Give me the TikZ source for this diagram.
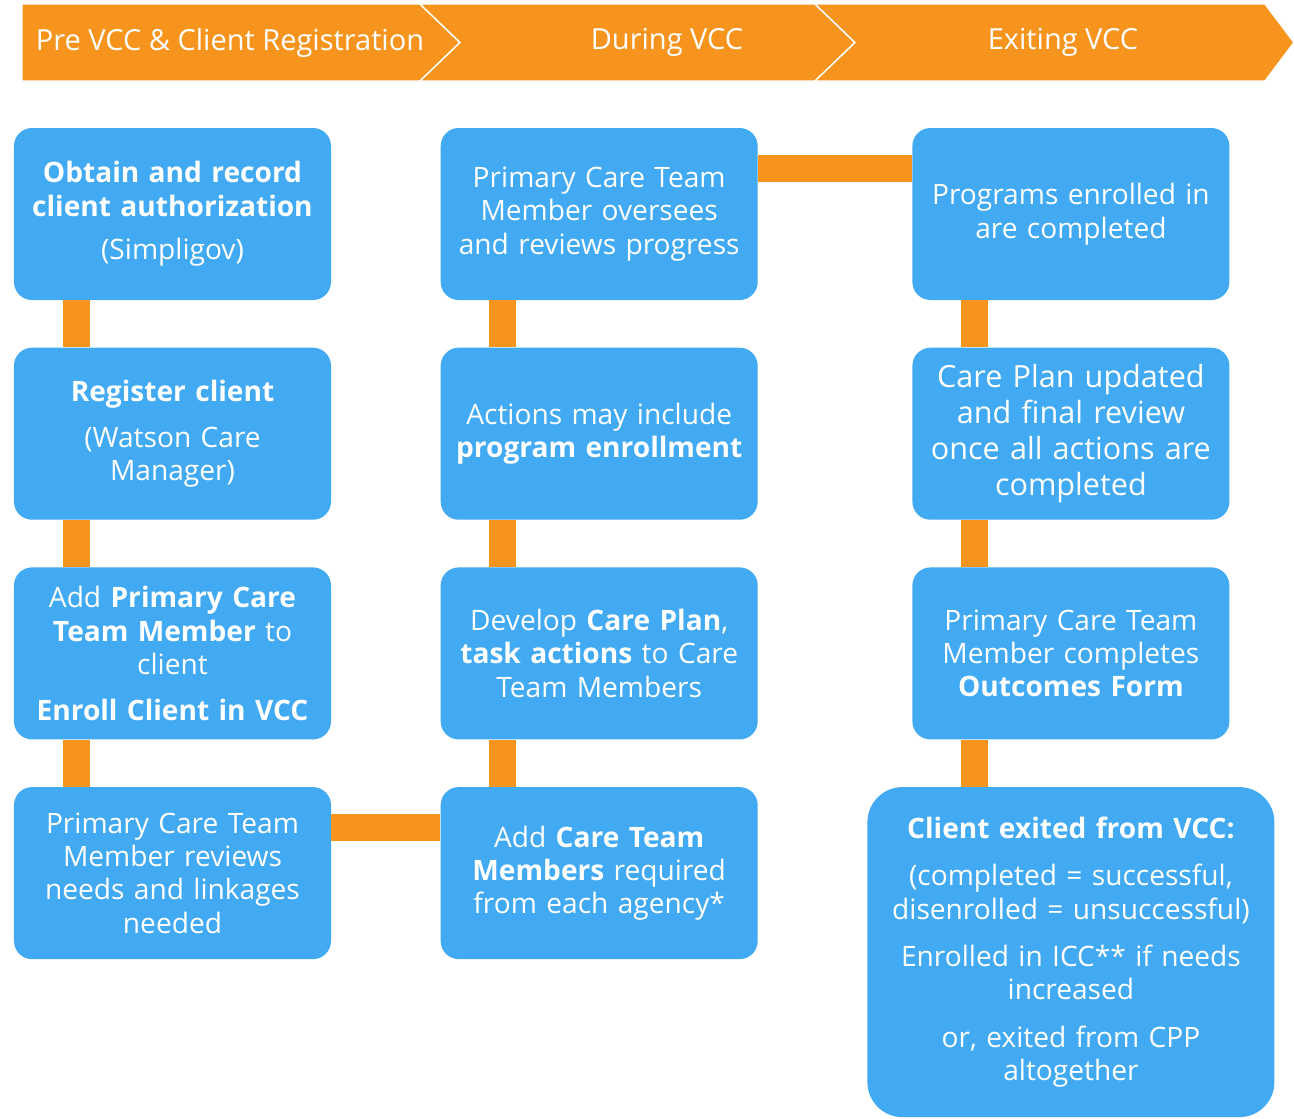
\documentclass[tikz,border=0pt]{standalone}
\usepackage{fontspec}
\setmainfont{Open Sans}
\usetikzlibrary{positioning}
\definecolor{vccblue}{RGB}{66,169,243}
\definecolor{vccorange}{RGB}{247,148,30}
\tikzset{
    box/.style={rectangle,rounded corners=0.36cm,fill=vccblue,text=white,minimum width=6.34cm,minimum height=3.44cm,text width=6.2cm,align=center,inner sep=0pt,font=\fontsize{16}{19}\selectfont},
    bigbox/.style={box,rounded corners=0.7cm,minimum width=8.14cm,minimum height=6.6cm,text width=7.9cm},
    link/.style={-,draw=vccorange,line width=0.54cm},
    phase/.style={fill=vccorange,draw=white,line width=0.8pt,line join=miter},
    phase label/.style={text=white,font=\fontsize{16.5}{20}\selectfont}
}

\begin{document}
\begin{tikzpicture}
    \useasboundingbox (0,0) rectangle (25.88,-22.36);

    % phase band
    \draw[phase] (0.44,-0.08) -- (8.4,-0.08) -- (9.2,-0.85) -- (8.4,-1.62) -- (0.44,-1.62) -- cycle;
    \draw[phase] (8.4,-0.08) -- (16.3,-0.08) -- (17.1,-0.85) -- (16.3,-1.62) -- (8.4,-1.62) -- (9.2,-0.85) -- cycle;
    \draw[phase] (16.3,-0.08) -- (25.3,-0.08) -- (25.88,-0.85) -- (25.3,-1.62) -- (16.3,-1.62) -- (17.1,-0.85) -- cycle;
    \node[phase label] (phase 1) at (4.6,-0.85)   {Pre VCC \& Client Registration};
    \node[phase label] (phase 2) at (13.34,-0.85) {During VCC};
    \node[phase label] (phase 3) at (21.26,-0.85) {Exiting VCC};

    % pre VCC column
    \node[box] (pre 1) at (3.45,-4.28) {\textbf{Obtain and record}\\\textbf{client authorization}\\[6pt](Simpligov)};
    \node[box,below=0.94cm of pre 1] (pre 2) {\textbf{Register client}\\[7pt](Watson Care\\Manager)};
    \node[box,below=0.94cm of pre 2] (pre 3) {Add \textbf{Primary Care}\\\textbf{Team Member} to\\client\\[7pt]\textbf{Enroll Client in VCC}};
    \node[box,below=0.94cm of pre 3] (pre 4) {Primary Care Team\\Member reviews\\needs and linkages\\needed};

    % during VCC column
    \node[box,right=2.18cm of pre 1] (during 1) {Primary Care Team\\Member oversees\\and reviews progress};
    \node[box,below=0.94cm of during 1] (during 2) {Actions may include\\\textbf{program enrollment}};
    \node[box,below=0.94cm of during 2] (during 3) {Develop \textbf{Care Plan},\\\textbf{task actions} to Care\\Team Members};
    \node[box,below=0.94cm of during 3] (during 4) {Add \textbf{Care Team}\\\textbf{Members} required\\from each agency*};

    % exiting VCC column
    \node[box,right=3.08cm of during 1] (exit 1) {Programs enrolled in\\are completed};
    \node[box,below=0.94cm of exit 1,font=\fontsize{17.4}{20.5}\selectfont] (exit 2) {Care Plan updated\\and final review\\once all actions are\\completed};
    \node[box,below=0.94cm of exit 2] (exit 3) {Primary Care Team\\Member completes\\\textbf{Outcomes Form}};
    \node[bigbox,below=0.94cm of exit 3] (exit 4) {\textbf{Client exited from VCC:}\\[8pt](completed = successful,\\disenrolled = unsuccessful)\\[8pt]Enrolled in ICC** if needs\\increased\\[8pt]or, exited from CPP\\altogether};

    % connectors
    \draw[link] ([xshift=1.26cm]pre 1.south west) -- ([xshift=1.26cm]pre 2.north west);
    \draw[link] ([xshift=1.26cm]pre 2.south west) -- ([xshift=1.26cm]pre 3.north west);
    \draw[link] ([xshift=1.26cm]pre 3.south west) -- ([xshift=1.26cm]pre 4.north west);
    \draw[link] ([yshift=-0.82cm]pre 4.north east) -- ([yshift=-0.82cm]during 4.north west);
    \draw[link] ([xshift=1.24cm]during 4.north west) -- ([xshift=1.24cm]during 3.south west);
    \draw[link] ([xshift=1.24cm]during 3.north west) -- ([xshift=1.24cm]during 2.south west);
    \draw[link] ([xshift=1.24cm]during 2.north west) -- ([xshift=1.24cm]during 1.south west);
    \draw[link] ([yshift=-0.82cm]during 1.north east) -- ([yshift=-0.82cm]exit 1.north west);
    \draw[link] ([xshift=1.24cm]exit 1.south west) -- ([xshift=1.24cm]exit 2.north west);
    \draw[link] ([xshift=1.24cm]exit 2.south west) -- ([xshift=1.24cm]exit 3.north west);
    \draw[link] ([xshift=1.24cm]exit 3.south west) -- ([xshift=1.24cm]exit 3.south west |- exit 4.north);

\end{tikzpicture}
\end{document}
